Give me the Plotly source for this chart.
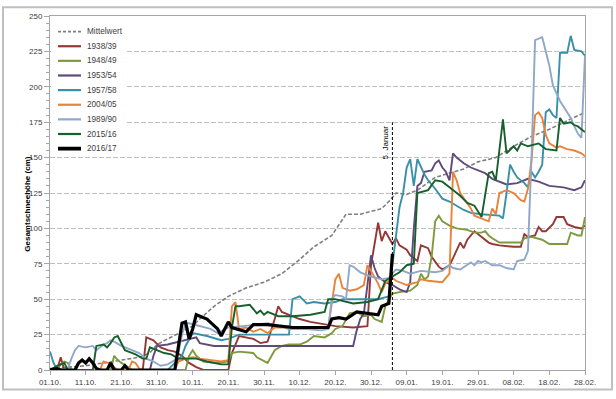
import plotly.graph_objects as go

# ---------------- data (day index from 01.10. = 0) ----------------
tick_days = [0, 10, 20, 30, 40, 50, 60, 70, 80, 90, 100, 110, 120, 130, 140, 150]
tick_labels = ["01.10.", "11.10.", "21.10.", "31.10.", "10.11.", "20.11.", "30.11.", "10.12.",
               "20.12.", "30.12.", "09.01.", "19.01.", "29.01.", "08.02.", "18.02.", "28.02."]
y_ticks = [0, 25, 50, 75, 100, 125, 150, 175, 200, 225, 250]

series_names = ["Mittelwert", "1938/39", "1948/49", "1953/54", "1957/58",
                "2004/05", "1989/90", "2015/16", "2016/17"]

mittel_days = [0, 5, 10, 15, 20, 25, 28, 30, 33, 36, 40, 42, 46, 50, 55, 60, 65, 70, 74, 79, 83, 87, 90,
               93, 95, 97, 100, 103, 108, 112, 116, 120, 125, 130, 135, 140, 145, 150]
mittel_vals = [1, 2, 3, 5, 7, 9, 12, 18, 22, 26, 31, 36, 45, 52, 58, 62, 68, 78, 87, 95, 110, 110, 112,
               114, 119, 125, 124, 127, 136, 139, 142, 147, 150, 158, 165, 170, 176, 182]

s1938_days = [0, 2, 3, 4, 26, 27, 29, 31, 33, 35, 37, 39, 41, 43, 50, 51, 53, 55, 57, 59, 61, 63, 64, 65,
              67, 70, 73, 75, 80, 85, 89, 90, 92, 93, 94, 96, 97, 98, 100, 101, 103, 104, 106, 107, 109,
              110, 112, 113, 114, 115, 116, 117, 119, 121, 123, 124, 126, 130, 132, 133, 134, 136, 137,
              138, 139, 141, 142, 144, 145, 147, 149, 150]
s1938_vals = [0, 0, 9, 0, 0, 23, 21, 16, 14, 13, 10, 5, 2, 0, 0, 12, 24, 23, 22, 19, 20, 36, 45, 41,
              39, 36, 34, 33, 31, 30, 31, 74, 104, 91, 98, 89, 93, 88, 85, 81, 77, 88, 86, 80, 73,
              71, 74, 79, 85, 90, 86, 92, 98, 94, 90, 89, 88, 87, 87, 96, 94, 95, 101,
              98, 98, 103, 108, 108, 103, 101, 100, 102]

s1948_days = [0, 2, 3, 4, 5, 6, 17, 18, 19, 20, 22, 23, 38, 39, 40, 41, 43, 47, 50, 51, 53, 57, 58, 60,
              61, 63, 65, 67, 70, 72, 74, 77, 79, 80, 82, 84, 86, 88, 90, 91, 93, 94, 96, 98, 101, 103,
              104, 105, 106, 107, 108, 109, 110, 112, 114, 117, 119, 121, 122, 123, 124, 126, 132, 133,
              135, 138, 140, 145, 146, 148, 149, 150]
s1948_vals = [0, 0, 4, 6, 5, 0, 0, 10, 7, 5, 2, 0, 0, 10, 14, 10, 6, 5, 6, 12, 13, 12, 9, 6,
              5, 14, 17, 18, 18, 20, 24, 23, 26, 29, 31, 40, 41, 38, 39, 36, 34, 45, 54, 55, 56, 60,
              68, 64, 66, 80, 105, 109, 105, 102, 100, 99, 97, 97, 98, 95, 93, 90, 90, 93,
              94, 92, 89, 89, 97, 95, 95, 108]

s1953_days = [0, 28, 29, 30, 33, 36, 39, 41, 42, 44, 46, 85, 86, 87, 88, 89, 90, 91, 92, 94, 96, 98, 100,
              101, 102, 103, 104, 105, 107, 108, 109, 110, 111, 112, 113, 114, 116, 118, 120, 122, 124,
              126, 128, 131, 134, 137, 140, 144, 147, 149, 150]
s1953_vals = [0, 0, 10, 17, 18, 20, 22, 23, 19, 18, 17, 17, 28, 36, 40, 60, 81, 72, 66, 62, 60, 57, 55,
              62, 100, 130, 132, 140, 141, 146, 148, 143, 140, 134, 153, 150, 146, 143, 141, 139, 135,
              133, 131, 132, 135, 133, 130, 129, 127, 129, 134]

s1957_days = [0, 1, 2, 33, 35, 37, 38, 40, 44, 48, 50, 53, 67, 68, 70, 72, 74, 77, 80, 82, 92, 95, 96, 97,
              98, 99, 100, 101, 102, 103, 104, 105, 106, 108, 110, 112, 114, 116, 118, 121, 126, 127,
              128, 129, 130, 131, 133, 134, 135, 136, 137, 138, 139, 140, 141, 142, 143, 145, 146, 147,
              149, 150]
s1957_vals = [13, 5, 0, 0, 5, 10, 17, 26, 24, 21, 22, 25, 25, 50, 52, 47, 48, 47, 48, 50, 50, 52, 74, 95,
              115, 125, 143, 149, 130, 149, 143, 138, 134, 128, 121, 119, 116, 113, 111, 110, 109, 107,
              125, 145, 140, 136, 132, 129, 140, 136, 140, 145, 182, 184, 180, 178, 224, 224, 236, 226,
              225, 222]

s2004_days = [0, 14, 15, 16, 17, 18, 19, 22, 23, 24, 25, 26, 35, 36, 38, 40, 42, 45, 48, 50, 51, 52, 53,
              55, 57, 59, 61, 63, 65, 67, 69, 78, 79, 80, 81, 82, 84, 86, 88, 89, 90, 92, 93, 94, 96, 97,
              100, 103, 104, 106, 110, 112, 113, 114, 115, 117, 118, 119, 121, 123, 124, 125, 126, 128,
              130, 132, 133, 134, 135, 136, 137, 138, 139, 140, 142, 143, 145, 147, 149, 150]
s2004_vals = [0, 0, 6, 5, 5, 2, 0, 0, 6, 5, 1, 0, 0, 6, 8, 9, 8, 7, 6, 7, 45, 48, 29,
              30, 27, 29, 26, 30, 30, 31, 29, 30, 47, 64, 68, 58, 56, 57, 60, 74, 70, 61, 55, 61, 65, 63,
              60, 62, 64, 63, 62, 68, 140, 134, 125, 118, 114, 109, 107, 105, 114, 110, 125, 127,
              125, 120, 119, 128, 148, 180, 182, 178, 166, 160, 157, 158, 156, 155, 153, 151]

s1989_days = [0, 5, 6, 7, 8, 10, 12, 13, 15, 16, 17, 18, 20, 22, 25, 27, 29, 31, 33, 35, 36, 37, 38, 39,
              42, 45, 47, 50, 54, 58, 61, 67, 72, 76, 78, 79, 80, 82, 83, 84, 85, 87, 90, 93, 95, 97, 99,
              101, 104, 108, 110, 112, 113, 115, 117, 118, 119, 120, 121, 122, 124, 126, 128, 130, 131,
              133, 134, 135, 136, 138, 140, 141, 143, 144, 146, 147, 148, 149, 150]
s1989_vals = [0, 1, 8, 14, 17, 16, 17, 14, 18, 19, 21, 20, 17, 15, 12, 8, 6, 3, 4, 7, 12, 25, 33, 33,
              31, 29, 26, 30, 31, 32, 33, 29, 29, 28, 29, 50, 53, 52, 50, 74, 73, 69, 66, 64, 65, 71, 70,
              68, 70, 69, 70, 74, 72, 71, 74, 76, 74, 77, 76, 77, 74, 74, 72, 71, 77,
              78, 84, 150, 233, 235, 215, 201, 190, 186, 178, 172, 167, 164, 222]

s2015_days = [0, 2, 4, 5, 12, 13, 15, 16, 17, 18, 19, 20, 21, 22, 24, 26, 27, 28, 30, 32, 34, 36, 41, 44,
              48, 50, 51, 52, 53, 56, 58, 59, 60, 61, 64, 68, 73, 77, 78, 80, 85, 89, 92, 94, 96, 98, 100,
              102, 103, 106, 108, 110, 112, 113, 115, 117, 119, 121, 123, 124, 125, 127, 128, 130, 131,
              132, 134, 137, 139, 142, 143, 144, 146, 147, 148, 150]
s2015_vals = [0, 3, 5, 0, 0, 17, 18, 16, 19, 23, 24, 19, 14, 13, 11, 8, 8, 16, 14, 12, 11, 8, 8, 6,
              4, 4, 30, 45, 45, 46, 40, 42, 39, 41, 38, 38, 39, 41, 50, 50, 47, 48, 50, 63, 66, 69, 74,
              75, 125, 127, 134, 133, 129, 127, 123, 118, 116, 108, 139, 140, 134, 177, 153, 158, 155,
              160, 158, 160, 156, 155, 178, 174, 175, 173, 172, 168]

s2016_days = [0, 2, 3, 7, 8, 9, 10, 11, 12, 13, 14, 16, 17, 18, 20, 21, 22, 35, 37, 38, 39, 40, 41, 42,
              44, 47, 48, 50, 51, 55, 57, 61, 64, 68, 78, 79, 81, 83, 86, 92, 93, 94, 95, 96]
s2016_vals = [0, 1, 0, 0, 5, 7, 5, 8, 5, 1, 0, 0, 5, 0, 0, 3, 0, 0, 33, 34, 22, 29, 39, 38,
              36, 29, 24, 34, 30, 27, 32, 32, 31, 30, 30, 36, 37, 36, 41, 39, 45, 46, 47, 82]

marker_day = 96
marker_top = 175
marker_label = "5. Januar"
y_title = "Gesamtschneehöhe (cm)"

# ---------------- styling ----------------
W, H = 616, 399
ML, MR, MT, MB = 50, 31, 12, 24
PW, PH = W - ML - MR, H - MT - MB


def px(xp):
    return (xp - ML) / PW


def py(yp):
    return (H - MB - yp) / PH


colors = {
    "Mittelwert": "#7F7F7F",
    "1938/39": "#953735",
    "1948/49": "#7E9A3E",
    "1953/54": "#604A7B",
    "1957/58": "#3A90A8",
    "2004/05": "#E8833A",
    "1989/90": "#8FA8C8",
    "2015/16": "#17602E",
    "2016/17": "#000000",
}


def line_style(name):
    if name == "Mittelwert":
        return dict(color=colors[name], width=1.6, dash="4px,2px")
    if name == "2016/17":
        return dict(color=colors[name], width=3.2)
    return dict(color=colors[name], width=1.9)


data = {
    "Mittelwert": (mittel_days, mittel_vals),
    "1938/39": (s1938_days, s1938_vals),
    "1948/49": (s1948_days, s1948_vals),
    "1953/54": (s1953_days, s1953_vals),
    "1957/58": (s1957_days, s1957_vals),
    "2004/05": (s2004_days, s2004_vals),
    "1989/90": (s1989_days, s1989_vals),
    "2015/16": (s2015_days, s2015_vals),
    "2016/17": (s2016_days, s2016_vals),
}

fig = go.Figure()
for name in series_names:
    xs, ys = data[name]
    fig.add_trace(go.Scatter(x=xs, y=ys, mode="lines", name=name, line=line_style(name),
                             showlegend=False))

# vertical marker line (5. Januar)
fig.add_trace(go.Scatter(x=[marker_day, marker_day], y=[0, marker_top], mode="lines",
                         line=dict(color="#000000", width=1, dash="3px,2px"),
                         showlegend=False, hoverinfo="skip"))

fig.add_annotation(x=marker_day, y=161, text=marker_label, textangle=-90, showarrow=False,
                   xshift=-7, font=dict(size=8, color="#000000", family="Liberation Sans"))

# y axis title as annotation
fig.add_annotation(xref="paper", yref="paper", x=px(21), y=py(205), text="<b>" + y_title + "</b>",
                   textangle=-90, showarrow=False,
                   font=dict(size=8, color="#000000", family="Liberation Sans"))

# outer frame
shapes = [dict(type="rect", xref="paper", yref="paper",
               x0=px(3), x1=px(612), y0=py(395), y1=py(3),
               line=dict(color="#BFBFBF", width=2), fillcolor="rgba(0,0,0,0)", layer="above")]

# custom legend (inside plot, top-left)
shapes.append(dict(type="rect", xref="paper", yref="paper",
                   x0=px(51), x1=px(125), y0=py(156), y1=py(17),
                   line=dict(width=0), fillcolor="white", layer="above"))
for i, name in enumerate(series_names):
    yc = 28 + 15 * i
    st = line_style(name)
    ld = dict(color=st["color"], width=st["width"] + (0.6 if name == "2016/17" else 0.3))
    if "dash" in st:
        ld["dash"] = "3px,2px"
    shapes.append(dict(type="line", xref="paper", yref="paper",
                       x0=px(58), x1=px(81), y0=py(yc), y1=py(yc), line=ld, layer="above"))
    fig.add_annotation(xref="paper", yref="paper", x=px(85), y=py(yc), text=name,
                       xanchor="left", yanchor="middle", showarrow=False,
                       font=dict(size=8.2, color="#404040", family="Liberation Sans"))

axis_font = dict(size=8, color="#404040", family="Liberation Sans")

fig.update_layout(
    width=W, height=H,
    margin=dict(l=ML, r=MR, t=MT, b=MB),
    paper_bgcolor="white", plot_bgcolor="white",
    showlegend=False,
    shapes=shapes,
    xaxis=dict(range=[0, 150], tickvals=tick_days, ticktext=tick_labels,
               showgrid=False, zeroline=False, showline=True, linecolor="#A6A6A6",
               mirror=True, ticks="outside", ticklen=4, tickcolor="#A6A6A6",
               tickfont=axis_font),
    yaxis=dict(range=[0, 250], tickvals=y_ticks, showgrid=True, gridcolor="#BFBFBF",
               griddash="5px,2px", gridwidth=1, zeroline=False, showline=True,
               linecolor="#A6A6A6", mirror=True, ticks="outside", ticklen=5,
               tickcolor="#A6A6A6", tickfont=axis_font,
               minor=dict(dtick=5, ticks="outside", ticklen=3, tickcolor="#A6A6A6", showgrid=False)),
)

fig.write_html("out.html", config={"displayModeBar": False},
               post_script="document.body.style.margin='0';")
